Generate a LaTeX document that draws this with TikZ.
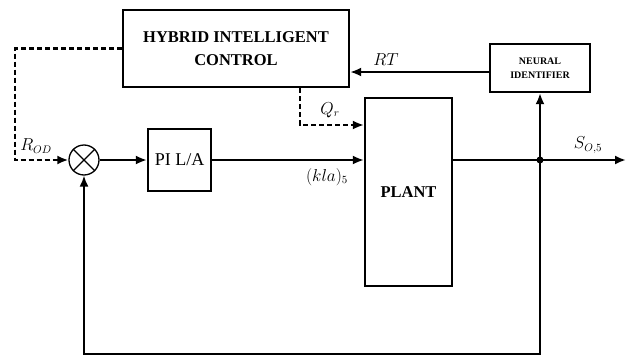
\documentclass[tikz,border=0pt]{standalone}
\usepackage{fontspec}
\setmainfont{Liberation Serif}
\usetikzlibrary{arrows.meta,positioning,calc}

\begin{document}
\begin{tikzpicture}[x=1pt,y=-1pt,
    blk/.style={draw,line width=2.2pt,rectangle,align=center,inner sep=0pt},
    sig/.style={line width=2.2pt,-{Latex[length=11pt,width=9pt]}},
    dsig/.style={sig,dash pattern=on 5pt off 3pt},
    lbl/.style={font=\fontsize{16}{18}\selectfont}]
  \useasboundingbox (0,0) rectangle (626,356);
  % blocks
  \node[blk,minimum width=226pt,minimum height=77pt,
        font=\fontsize{16.5}{23}\selectfont\bfseries] (hic) at (236,48.5)
        {HYBRID INTELLIGENT\\CONTROL};
  \node[blk,minimum width=100pt,minimum height=48pt,
        font=\fontsize{10}{14}\selectfont\bfseries] (ni) at (540,68)
        {NEURAL\\IDENTIFIER};
  \node[blk,minimum width=63pt,minimum height=62pt,
        font=\fontsize{18}{20}\selectfont] (pi) at (179.5,160) {PI L/A};
  \node[blk,minimum width=87pt,minimum height=188pt,
        font=\fontsize{16.5}{18}\selectfont\bfseries] (plant) at (408.5,192) {PLANT};
  \node[draw,circle,line width=1.3pt,minimum size=30pt,inner sep=0pt] (sum) at (84,160) {};
  \draw[line width=1.3pt] (sum.north west) -- (sum.south east)
                          (sum.north east) -- (sum.south west);
  \coordinate (jn) at (540,160);
  \coordinate (out) at (626,160);
  \coordinate (rleft) at (15,160);
  \coordinate (qr) at (300,125);
  \coordinate (fb) at (540,354);
  % signals
  \draw[dsig] (hic.west) -| (rleft) -- (sum.west);
  \draw[sig] (sum.east) -- (pi.west);
  \draw[sig] (pi.east) -- (pi.east -| plant.west);
  \draw[dsig] (hic.south -| qr) -- (qr) -- (qr -| plant.west);
  \draw[sig] (jn -| plant.east) -- (out);
  \draw[sig] (jn) -- (ni.south);
  \draw[sig] ([yshift=-4pt]ni.west) -- ([yshift=-4pt]ni.west -| hic.east);
  \draw[sig,line width=1.7pt] (jn) -- (fb) -| (sum.south);
  \fill (jn) circle (3.5pt);
  % labels
  \node[lbl] (rod) at (36,146) {$R_{OD}$};
  \node[lbl] (qrl) at (330,110) {$Q_r$};
  \node[lbl] (kla) at (327,177) {$(kla)_5$};
  \node[lbl] (rt) at (386,60) {$RT$};
  \node[lbl] (so) at (588,145) {$S_{O,5}$};
\end{tikzpicture}
\end{document}
